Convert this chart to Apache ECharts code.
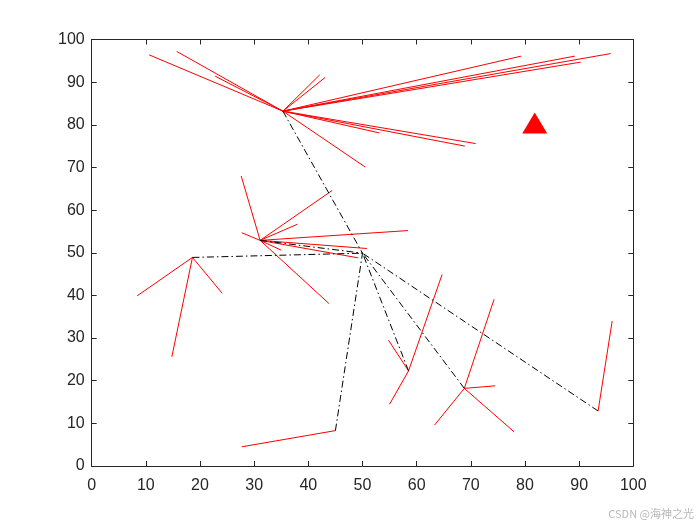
<!DOCTYPE html>
<html>
<head>
<meta charset="utf-8">
<script src="https://cdn.jsdelivr.net/npm/echarts@6/dist/echarts.min.js"></script>
<style>html,body{margin:0;padding:0;background:#fff}#c{width:700px;height:525px}</style>
</head>
<body>
<div id="c"></div>
<script>
// Axis ticks
const xTicks = [0,10,20,30,40,50,60,70,80,90,100];
const yTicks = [0,10,20,30,40,50,60,70,80,90,100];

// Cluster heads
const heads = [[35.3,83.2],[31.1,52.9],[18.6,48.9],[58.5,22.3],[68.8,18.2],[93.5,12.9],[45.0,8.3]];
// Relay node that all heads connect to
const relay = [50.0,49.9];
// Base station (red triangle)
const baseStation = [81.8,80.4];

// Member nodes for each cluster head
const members0 = [[10.6,96.4],[15.7,97.2],[22.8,91.4],[42.1,91.7],[43.1,91.1],[50.5,70.1],[79.3,96.1],[89.2,96.1],[95.8,96.7],[90.3,94.7],[53.1,78.1],[68.9,75.0],[70.9,75.6]];
const members1 = [[27.6,68.0],[44.4,64.6],[38.0,56.7],[27.7,54.7],[58.4,55.2],[50.8,51.0],[49.2,48.8],[35.0,50.6],[43.8,38.1]];
const members2 = [[8.4,39.9],[24.1,40.5],[14.8,25.6]];
const members3 = [[64.7,44.9],[54.8,29.5],[55.0,14.5]];
const members4 = [[74.3,39.1],[74.5,18.8],[63.3,9.6],[78.0,8.0]];
const members5 = [[96.1,34.0]];
const members6 = [[27.7,4.5]];
const memberLists = [members0,members1,members2,members3,members4,members5,members6];

const series = [];
memberLists.forEach((list, i) => {
  list.forEach(m => {
    series.push({
      type: 'line', data: [heads[i], m], symbol: 'none', silent: true,
      lineStyle: { color: '#ff0000', width: 1 }, z: 2, animation: false
    });
  });
});
heads.forEach(h => {
  series.push({
    type: 'line', data: [h, relay], symbol: 'none', silent: true,
    lineStyle: { color: '#000000', width: 1, type: [7, 3, 1.5, 3] }, z: 3, animation: false
  });
});
series.push({
  type: 'scatter', data: [baseStation], symbol: 'triangle', symbolSize: [25, 21],
  itemStyle: { color: '#ff0000', opacity: 1 }, z: 5, animation: false
});

const labelFont = { fontFamily: 'Liberation Sans, Arial, sans-serif', fontSize: 16, color: '#262626' };
const axisLine = { show: true, onZero: false, lineStyle: { color: '#262626', width: 1 } };
const tick = { show: true, inside: true, length: 5, lineStyle: { color: '#262626' } };

const chart = echarts.init(document.getElementById('c'));
chart.setOption({
  animation: false,
  backgroundColor: '#fff',
  grid: { left: 91.7, right: 66.7, top: 39.5, bottom: 59 },
  xAxis: [
    { type: 'value', min: 0, max: 100, interval: 10, position: 'bottom',
      axisLine, axisTick: tick, splitLine: { show: false },
      axisLabel: Object.assign({ margin: 12, formatter: v => xTicks.includes(v) ? String(v) : '' }, labelFont) },
    { type: 'value', min: 0, max: 100, interval: 10, position: 'top',
      axisLine, axisTick: tick, splitLine: { show: false }, axisLabel: { show: false } }
  ],
  yAxis: [
    { type: 'value', min: 0, max: 100, interval: 10, position: 'left',
      axisLine, axisTick: tick, splitLine: { show: false },
      axisLabel: Object.assign({ margin: 7, formatter: v => yTicks.includes(v) ? String(v) : '' }, labelFont) },
    { type: 'value', min: 0, max: 100, interval: 10, position: 'right',
      axisLine, axisTick: tick, splitLine: { show: false }, axisLabel: { show: false } }
  ],
  graphic: [{
    type: 'text', right: 6, bottom: 6,
    style: { text: 'CSDN @海神之光', fill: '#b8b8b8', font: '11px "Noto Sans CJK SC", sans-serif' }
  }],
  series
});
</script>
</body>
</html>
